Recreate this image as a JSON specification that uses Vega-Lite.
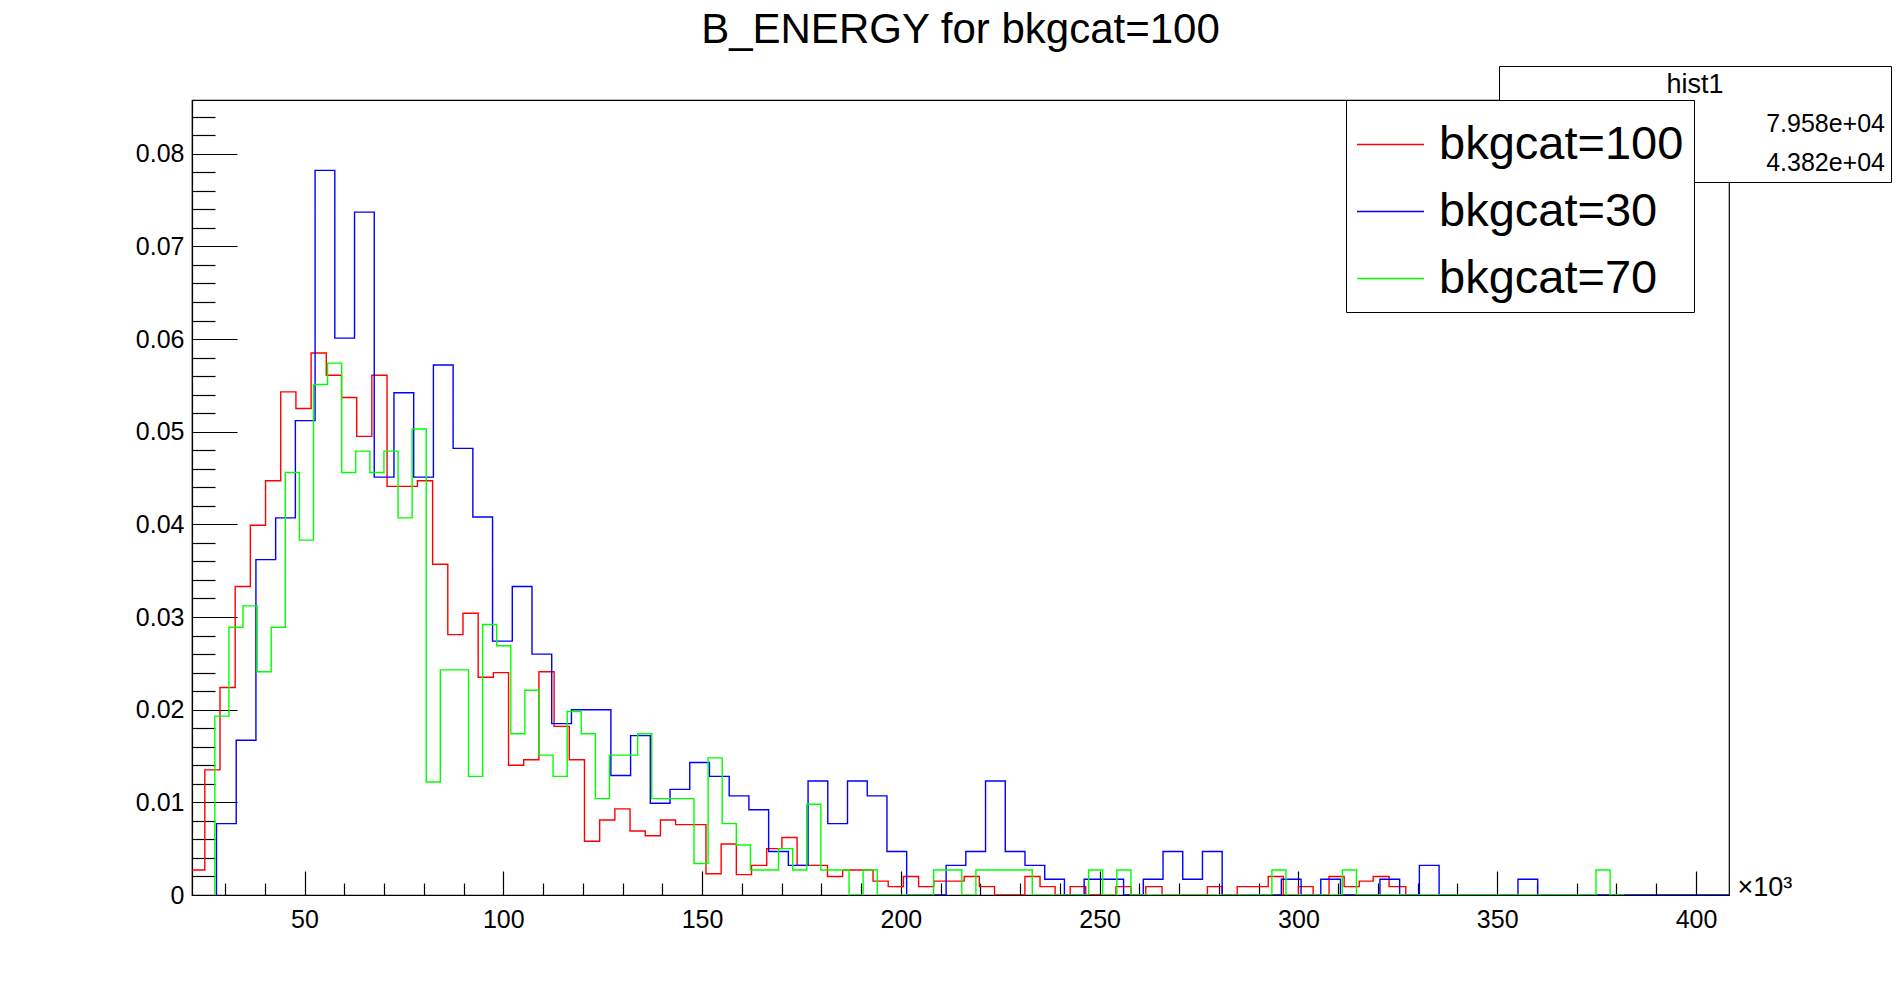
{
  "$schema": "https://vega.github.io/schema/vega-lite/v6.json",
  "width": 1537,
  "height": 795,
  "autosize": "none",
  "padding": {"left": 192, "top": 100, "right": 169, "bottom": 99},
  "background": "white",
  "title": {"text": "B_ENERGY for bkgcat=100", "font": "Liberation Sans", "fontSize": 42, "fontWeight": "normal", "offset": 14, "anchor": "middle", "color": "black"},
  "config": {
    "view": {"stroke": "black", "strokeWidth": 1.2},
    "axis": {"grid": false, "domainColor": "black", "tickColor": "black", "labelColor": "black", "labelFont": "Liberation Sans", "labelFontSize": 25, "title": null, "tickWidth": 1.2, "domainWidth": 1.2}
  },
  "datasets": {
    "hist": [
      {"s": "bkgcat=100", "x": 21.7, "y": 0.0027}, {"s": "bkgcat=100", "x": 24.92, "y": 0.0135}, {"s": "bkgcat=100", "x": 28.74, "y": 0.0224},
      {"s": "bkgcat=100", "x": 32.56, "y": 0.0333}, {"s": "bkgcat=100", "x": 36.38, "y": 0.0399}, {"s": "bkgcat=100", "x": 40.2, "y": 0.0447},
      {"s": "bkgcat=100", "x": 44.02, "y": 0.0543}, {"s": "bkgcat=100", "x": 47.84, "y": 0.0525}, {"s": "bkgcat=100", "x": 51.66, "y": 0.0585},
      {"s": "bkgcat=100", "x": 55.48, "y": 0.0561}, {"s": "bkgcat=100", "x": 59.3, "y": 0.0537}, {"s": "bkgcat=100", "x": 63.12, "y": 0.0495},
      {"s": "bkgcat=100", "x": 66.94, "y": 0.0561}, {"s": "bkgcat=100", "x": 70.76, "y": 0.0441}, {"s": "bkgcat=100", "x": 78.4, "y": 0.0447},
      {"s": "bkgcat=100", "x": 82.22, "y": 0.0357}, {"s": "bkgcat=100", "x": 86.04, "y": 0.0281}, {"s": "bkgcat=100", "x": 89.86, "y": 0.0304},
      {"s": "bkgcat=100", "x": 93.68, "y": 0.0235}, {"s": "bkgcat=100", "x": 97.5, "y": 0.024}, {"s": "bkgcat=100", "x": 101.32, "y": 0.014},
      {"s": "bkgcat=100", "x": 105.14, "y": 0.0146}, {"s": "bkgcat=100", "x": 108.96, "y": 0.0241}, {"s": "bkgcat=100", "x": 112.78, "y": 0.0182},
      {"s": "bkgcat=100", "x": 116.6, "y": 0.0146}, {"s": "bkgcat=100", "x": 120.42, "y": 0.0058}, {"s": "bkgcat=100", "x": 124.24, "y": 0.0081},
      {"s": "bkgcat=100", "x": 128.06, "y": 0.0093}, {"s": "bkgcat=100", "x": 131.88, "y": 0.0069}, {"s": "bkgcat=100", "x": 135.7, "y": 0.0064},
      {"s": "bkgcat=100", "x": 139.52, "y": 0.0081}, {"s": "bkgcat=100", "x": 143.34, "y": 0.0076}, {"s": "bkgcat=100", "x": 150.98, "y": 0.0023},
      {"s": "bkgcat=100", "x": 154.8, "y": 0.0055}, {"s": "bkgcat=100", "x": 158.62, "y": 0.0022}, {"s": "bkgcat=100", "x": 162.44, "y": 0.0032},
      {"s": "bkgcat=100", "x": 166.26, "y": 0.005}, {"s": "bkgcat=100", "x": 170.08, "y": 0.0062}, {"s": "bkgcat=100", "x": 173.9, "y": 0.0032},
      {"s": "bkgcat=100", "x": 181.54, "y": 0.002}, {"s": "bkgcat=100", "x": 185.36, "y": 0.0027}, {"s": "bkgcat=100", "x": 193.0, "y": 0.0015},
      {"s": "bkgcat=100", "x": 196.82, "y": 0.0009}, {"s": "bkgcat=100", "x": 200.64, "y": 0.002}, {"s": "bkgcat=100", "x": 204.46, "y": 0.0009},
      {"s": "bkgcat=100", "x": 208.28, "y": 0.0015}, {"s": "bkgcat=100", "x": 215.92, "y": 0.002}, {"s": "bkgcat=100", "x": 219.74, "y": 0.0009},
      {"s": "bkgcat=100", "x": 223.56, "y": 0}, {"s": "bkgcat=100", "x": 231.2, "y": 0.002}, {"s": "bkgcat=100", "x": 235.0, "y": 0.0009},
      {"s": "bkgcat=100", "x": 238.8, "y": 0}, {"s": "bkgcat=100", "x": 242.6, "y": 0.0009}, {"s": "bkgcat=100", "x": 246.5, "y": 0},
      {"s": "bkgcat=100", "x": 254.1, "y": 0.0009}, {"s": "bkgcat=100", "x": 257.9, "y": 0}, {"s": "bkgcat=100", "x": 261.6, "y": 0.0009},
      {"s": "bkgcat=100", "x": 265.7, "y": 0}, {"s": "bkgcat=100", "x": 277.1, "y": 0.0009}, {"s": "bkgcat=100", "x": 280.8, "y": 0},
      {"s": "bkgcat=100", "x": 284.6, "y": 0.0009}, {"s": "bkgcat=100", "x": 292.4, "y": 0.002}, {"s": "bkgcat=100", "x": 296.2, "y": 0},
      {"s": "bkgcat=100", "x": 300.0, "y": 0.0009}, {"s": "bkgcat=100", "x": 303.7, "y": 0}, {"s": "bkgcat=100", "x": 307.7, "y": 0.002},
      {"s": "bkgcat=100", "x": 311.5, "y": 0.0009}, {"s": "bkgcat=100", "x": 315.3, "y": 0.0015}, {"s": "bkgcat=100", "x": 318.8, "y": 0.002},
      {"s": "bkgcat=100", "x": 322.8, "y": 0.0009}, {"s": "bkgcat=100", "x": 327.0, "y": 0},

      {"s": "bkgcat=30", "x": 27.86, "y": 0}, {"s": "bkgcat=30", "x": 27.86, "y": 0.0077}, {"s": "bkgcat=30", "x": 32.82, "y": 0.0167},
      {"s": "bkgcat=30", "x": 37.78, "y": 0.0362}, {"s": "bkgcat=30", "x": 42.74, "y": 0.0407}, {"s": "bkgcat=30", "x": 47.7, "y": 0.0512},
      {"s": "bkgcat=30", "x": 52.66, "y": 0.0782}, {"s": "bkgcat=30", "x": 57.62, "y": 0.0601}, {"s": "bkgcat=30", "x": 62.58, "y": 0.0737},
      {"s": "bkgcat=30", "x": 67.54, "y": 0.0451}, {"s": "bkgcat=30", "x": 72.5, "y": 0.0542}, {"s": "bkgcat=30", "x": 77.46, "y": 0.0451},
      {"s": "bkgcat=30", "x": 82.42, "y": 0.0572}, {"s": "bkgcat=30", "x": 87.38, "y": 0.0482}, {"s": "bkgcat=30", "x": 92.34, "y": 0.0408},
      {"s": "bkgcat=30", "x": 97.3, "y": 0.0274}, {"s": "bkgcat=30", "x": 102.26, "y": 0.0333}, {"s": "bkgcat=30", "x": 107.22, "y": 0.026},
      {"s": "bkgcat=30", "x": 112.18, "y": 0.0185}, {"s": "bkgcat=30", "x": 117.14, "y": 0.02}, {"s": "bkgcat=30", "x": 127.06, "y": 0.0129},
      {"s": "bkgcat=30", "x": 132.02, "y": 0.0172}, {"s": "bkgcat=30", "x": 136.98, "y": 0.0099}, {"s": "bkgcat=30", "x": 141.94, "y": 0.0114},
      {"s": "bkgcat=30", "x": 146.9, "y": 0.0143}, {"s": "bkgcat=30", "x": 151.86, "y": 0.0128}, {"s": "bkgcat=30", "x": 156.82, "y": 0.0107},
      {"s": "bkgcat=30", "x": 161.78, "y": 0.0092}, {"s": "bkgcat=30", "x": 166.74, "y": 0.0047}, {"s": "bkgcat=30", "x": 171.7, "y": 0.0032},
      {"s": "bkgcat=30", "x": 176.66, "y": 0.0123}, {"s": "bkgcat=30", "x": 181.62, "y": 0.0077}, {"s": "bkgcat=30", "x": 186.58, "y": 0.0123},
      {"s": "bkgcat=30", "x": 191.54, "y": 0.0107}, {"s": "bkgcat=30", "x": 196.5, "y": 0.0047}, {"s": "bkgcat=30", "x": 201.46, "y": 0},
      {"s": "bkgcat=30", "x": 211.38, "y": 0.0032}, {"s": "bkgcat=30", "x": 216.34, "y": 0.0047}, {"s": "bkgcat=30", "x": 221.3, "y": 0.0123},
      {"s": "bkgcat=30", "x": 226.26, "y": 0.0047}, {"s": "bkgcat=30", "x": 231.22, "y": 0.0032}, {"s": "bkgcat=30", "x": 236.18, "y": 0.0017},
      {"s": "bkgcat=30", "x": 241.14, "y": 0}, {"s": "bkgcat=30", "x": 246.1, "y": 0.0017}, {"s": "bkgcat=30", "x": 256.02, "y": 0},
      {"s": "bkgcat=30", "x": 260.98, "y": 0.0017}, {"s": "bkgcat=30", "x": 265.94, "y": 0.0047}, {"s": "bkgcat=30", "x": 270.9, "y": 0.0017},
      {"s": "bkgcat=30", "x": 275.86, "y": 0.0047}, {"s": "bkgcat=30", "x": 280.82, "y": 0}, {"s": "bkgcat=30", "x": 295.7, "y": 0.0017},
      {"s": "bkgcat=30", "x": 300.66, "y": 0}, {"s": "bkgcat=30", "x": 305.62, "y": 0.0017}, {"s": "bkgcat=30", "x": 310.58, "y": 0},
      {"s": "bkgcat=30", "x": 320.5, "y": 0.0017}, {"s": "bkgcat=30", "x": 325.46, "y": 0}, {"s": "bkgcat=30", "x": 330.42, "y": 0.0032},
      {"s": "bkgcat=30", "x": 335.38, "y": 0}, {"s": "bkgcat=30", "x": 355.22, "y": 0.0017}, {"s": "bkgcat=30", "x": 360.18, "y": 0},
      {"s": "bkgcat=30", "x": 408.3, "y": 0},

      {"s": "bkgcat=70", "x": 27.44, "y": 0}, {"s": "bkgcat=70", "x": 27.44, "y": 0.0193}, {"s": "bkgcat=70", "x": 30.99, "y": 0.0289},
      {"s": "bkgcat=70", "x": 34.53, "y": 0.0312}, {"s": "bkgcat=70", "x": 38.08, "y": 0.0241}, {"s": "bkgcat=70", "x": 41.62, "y": 0.0289},
      {"s": "bkgcat=70", "x": 45.17, "y": 0.0456}, {"s": "bkgcat=70", "x": 48.71, "y": 0.0383}, {"s": "bkgcat=70", "x": 52.26, "y": 0.0551},
      {"s": "bkgcat=70", "x": 55.8, "y": 0.0574}, {"s": "bkgcat=70", "x": 59.35, "y": 0.0456}, {"s": "bkgcat=70", "x": 62.89, "y": 0.0479},
      {"s": "bkgcat=70", "x": 66.44, "y": 0.0456}, {"s": "bkgcat=70", "x": 69.98, "y": 0.0479}, {"s": "bkgcat=70", "x": 73.53, "y": 0.0407},
      {"s": "bkgcat=70", "x": 77.07, "y": 0.0503}, {"s": "bkgcat=70", "x": 80.62, "y": 0.0122}, {"s": "bkgcat=70", "x": 84.16, "y": 0.0243},
      {"s": "bkgcat=70", "x": 91.25, "y": 0.0128}, {"s": "bkgcat=70", "x": 94.8, "y": 0.0292}, {"s": "bkgcat=70", "x": 98.34, "y": 0.0269},
      {"s": "bkgcat=70", "x": 101.89, "y": 0.0174}, {"s": "bkgcat=70", "x": 105.43, "y": 0.0221}, {"s": "bkgcat=70", "x": 108.98, "y": 0.0151},
      {"s": "bkgcat=70", "x": 112.52, "y": 0.0128}, {"s": "bkgcat=70", "x": 116.07, "y": 0.0198}, {"s": "bkgcat=70", "x": 119.61, "y": 0.0174},
      {"s": "bkgcat=70", "x": 123.16, "y": 0.0104}, {"s": "bkgcat=70", "x": 126.7, "y": 0.0151}, {"s": "bkgcat=70", "x": 133.79, "y": 0.0174},
      {"s": "bkgcat=70", "x": 137.34, "y": 0.0104}, {"s": "bkgcat=70", "x": 147.97, "y": 0.0034}, {"s": "bkgcat=70", "x": 151.52, "y": 0.0148},
      {"s": "bkgcat=70", "x": 155.06, "y": 0.0077}, {"s": "bkgcat=70", "x": 158.61, "y": 0.0054}, {"s": "bkgcat=70", "x": 162.15, "y": 0.0027},
      {"s": "bkgcat=70", "x": 169.24, "y": 0.005}, {"s": "bkgcat=70", "x": 172.79, "y": 0.0027}, {"s": "bkgcat=70", "x": 176.33, "y": 0.0098},
      {"s": "bkgcat=70", "x": 179.88, "y": 0.0027}, {"s": "bkgcat=70", "x": 186.97, "y": 0}, {"s": "bkgcat=70", "x": 190.51, "y": 0.0027},
      {"s": "bkgcat=70", "x": 194.06, "y": 0}, {"s": "bkgcat=70", "x": 208.24, "y": 0.0027}, {"s": "bkgcat=70", "x": 215.33, "y": 0},
      {"s": "bkgcat=70", "x": 218.87, "y": 0.0027}, {"s": "bkgcat=70", "x": 233.05, "y": 0}, {"s": "bkgcat=70", "x": 247.23, "y": 0.0027},
      {"s": "bkgcat=70", "x": 250.78, "y": 0}, {"s": "bkgcat=70", "x": 254.32, "y": 0.0027}, {"s": "bkgcat=70", "x": 257.87, "y": 0},
      {"s": "bkgcat=70", "x": 293.32, "y": 0.0027}, {"s": "bkgcat=70", "x": 296.86, "y": 0}, {"s": "bkgcat=70", "x": 311.04, "y": 0.0027},
      {"s": "bkgcat=70", "x": 314.59, "y": 0}, {"s": "bkgcat=70", "x": 374.85, "y": 0.0027}, {"s": "bkgcat=70", "x": 378.4, "y": 0},
      {"s": "bkgcat=70", "x": 381.94, "y": 0}
    ],
    "stats": [
      {"stat": "3322"},
      {"stat": "7.958e+04"},
      {"stat": "4.382e+04"}
    ]
  },
  "layer": [
    {
      "data": {"name": "stats"},
      "mark": {"type": "point", "opacity": 0, "size": 0},
      "encoding": {
        "opacity": {
          "field": "stat", "type": "nominal",
          "scale": {"domain": ["3322", "7.958e+04", "4.382e+04"], "range": [0, 0, 0]},
          "legend": {
            "title": "hist1", "orient": "none", "legendX": 1307, "legendY": -34, "zindex": 1,
            "fillColor": "white", "strokeColor": "black", "padding": 6,
            "titleFont": "Liberation Sans", "titleFontSize": 27, "titleFontWeight": "normal", "titleColor": "black", "titleAlign": "center", "titleAnchor": "middle", "titlePadding": 12,
            "labelFont": "Liberation Sans", "labelFontSize": 25, "labelColor": "black", "labelAlign": "right", "labelOffset": 355, "labelLimit": 600,
            "symbolSize": 0, "rowPadding": 13
          }
        }
      }
    },
    {
      "data": {"name": "hist"},
      "mark": {"type": "line", "interpolate": "step-after", "strokeWidth": 1.4, "clip": true},
      "encoding": {
        "x": {
          "field": "x", "type": "quantitative",
          "scale": {"domain": [21.7, 408.3], "nice": false, "zero": false},
          "axis": {
            "values": [30, 40, 50, 60, 70, 80, 90, 100, 110, 120, 130, 140, 150, 160, 170, 180, 190, 200, 210, 220, 230, 240, 250, 260, 270, 280, 290, 300, 310, 320, 330, 340, 350, 360, 370, 380, 390, 400],
            "labelExpr": "datum.value % 50 === 0 ? datum.label : ''",
            "tickSize": {"condition": {"test": "datum.value % 50 === 0", "value": -24}, "value": -12},
            "labelPadding": 36, "labelFlush": false, "labelOverlap": false,
            "title": "×10³", "titleX": 1545, "titleY": -8, "titleAlign": "left", "titleBaseline": "middle",
            "titleFont": "Liberation Sans", "titleFontSize": 27, "titleFontWeight": "normal", "titleColor": "black"
          }
        },
        "y": {
          "field": "y", "type": "quantitative",
          "scale": {"domain": [0, 0.0858], "nice": false},
          "axis": {
            "values": [0, 0.002, 0.004, 0.006, 0.008, 0.01, 0.012, 0.014, 0.016, 0.018, 0.02, 0.022, 0.024, 0.026, 0.028, 0.03, 0.032, 0.034, 0.036, 0.038, 0.04, 0.042, 0.044, 0.046, 0.048, 0.05, 0.052, 0.054, 0.056, 0.058, 0.06, 0.062, 0.064, 0.066, 0.068, 0.07, 0.072, 0.074, 0.076, 0.078, 0.08, 0.082, 0.084],
            "labelExpr": "abs(datum.value * 100 - round(datum.value * 100)) < 0.001 ? format(datum.value, '~g') : ''",
            "tickSize": {"condition": {"test": "abs(datum.value * 100 - round(datum.value * 100)) < 0.001", "value": -45}, "value": -23},
            "labelPadding": 53, "labelOverlap": false
          }
        },
        "color": {
          "field": "s", "type": "nominal",
          "scale": {"domain": ["bkgcat=100", "bkgcat=30", "bkgcat=70"], "range": ["#ff0000", "#0000ff", "#00ff00"]},
          "legend": {
            "title": null, "orient": "none", "legendX": 1154, "legendY": 0, "zindex": 2,
            "fillColor": "white", "strokeColor": "black", "padding": 10,
            "symbolType": "stroke", "symbolSize": 4489, "symbolStrokeWidth": 1.3,
            "labelFont": "Liberation Sans", "labelFontSize": 47, "labelOffset": 14, "labelColor": "black",
            "rowPadding": 9, "labelLimit": 600
          }
        },
        "order": {"value": null}
      }
    }
  ]
}
